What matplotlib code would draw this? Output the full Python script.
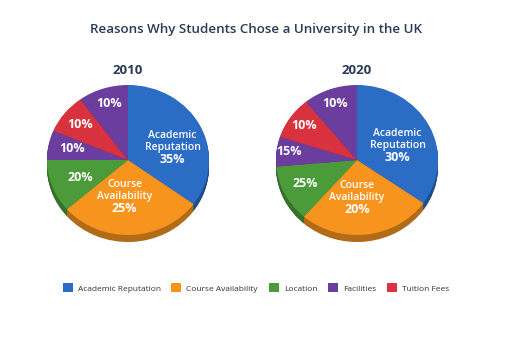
import matplotlib
matplotlib.use("Agg")
import matplotlib.pyplot as plt
from matplotlib.patches import Patch
import matplotlib.colors as mcolors

# ---- data ----
title = "Reasons Why Students Chose a University in the UK"
years = ["2010", "2020"]
legend_labels = ["Academic Reputation", "Course Availability", "Location", "Facilities", "Tuition Fees"]
slice_names = ["Academic\nReputation", "Course\nAvailability", "", "", "", ""]
pct_2010 = [35, 25, 20, 10, 10, 10]
pct_2020 = [30, 20, 25, 15, 10, 10]
# slice sizes as drawn in the picture (degrees)
drawn_2010 = [126, 103, 41, 23, 31, 36]
drawn_2020 = [125, 96, 44, 23, 33, 39]

# ---- style ----
c_blue, c_orange, c_green, c_purple, c_red = "#2B6CC4", "#F7941E", "#4B9B3A", "#6A3D9E", "#D8323E"
slice_colors = [c_blue, c_orange, c_green, c_purple, c_red, c_purple]
legend_colors = [c_blue, c_orange, c_green, c_purple, c_red]

def darker(c, f=0.72):
    r, g, b = mcolors.to_rgb(c)
    return (r * f, g * f, b * f)

W, H = 512, 341
fig = plt.figure(figsize=(W / 100, H / 100), dpi=100)
fig.patch.set_facecolor("white")

rx, ry = 81, 75
half = 100
centers = [(128, 160), (357, 160)]
font = "Open Sans"

# label positions in pie-radius units (x, y) per slice
label_pos = {
    "2010": [(0.55, 0.13), (-0.04, -0.53), (-0.59, -0.23), (-0.69, 0.15), (-0.59, 0.48), (-0.23, 0.75)],
    "2020": [(0.50, 0.15), (0.00, -0.54), (-0.64, -0.31), (-0.84, 0.11), (-0.65, 0.46), (-0.27, 0.75)],
}

for year, pcts, drawn, (cx, cy) in zip(years, [pct_2010, pct_2020], [drawn_2010, drawn_2020], centers):
    ax = fig.add_axes([(cx - half) / W, (H - (cy + half)) / H, 2 * half / W, 2 * half / H])
    depth = 7 / ry
    n = 10
    for i in range(n, 0, -1):
        off = depth * i / n
        ax.pie(drawn, colors=[darker(c) for c in slice_colors], startangle=90, counterclock=False,
               center=(0, -off), radius=1, wedgeprops=dict(linewidth=0))
    ax.pie(drawn, colors=slice_colors, startangle=90, counterclock=False,
           radius=1, wedgeprops=dict(linewidth=0))
    ax.set_aspect("auto")
    ax.set_xlim(-half / rx, half / rx)
    ax.set_ylim(-half / ry, half / ry)
    ax.axis("off")
    for k, (p, nm) in enumerate(zip(pcts, slice_names)):
        x, y = label_pos[year][k]
        if nm:
            ax.text(x, y + 0.12, nm, ha="center", va="center", color="white", fontsize=7.5,
                    fontweight="semibold", family=font, linespacing=1.15)
            ax.text(x, y - 0.12, f"{p}%", ha="center", va="center", color="white", fontsize=9,
                    fontweight="bold", family=font)
        else:
            ax.text(x, y, f"{p}%", ha="center", va="center", color="white", fontsize=9,
                    fontweight="bold", family=font)
    fig.text(cx / W, 1 - 70 / H, year, ha="center", va="center", fontsize=9.5,
             fontweight="bold", color="#2B3A55", family=font)

fig.text(0.5, 1 - 29 / H, title, ha="center", va="center", fontsize=9.6,
         fontweight="semibold", color="#2B3A55", family=font)

handles = [Patch(facecolor=c, edgecolor="none") for c in legend_colors]
fig.legend(handles, legend_labels, loc="center", bbox_to_anchor=(0.5, 1 - 288 / H), ncol=5,
           frameon=False, prop={"family": font, "size": 6}, handlelength=1.2, handleheight=1.2,
           columnspacing=1.3, handletextpad=0.6, labelcolor="#333333")

fig.savefig("out.png", dpi=100, facecolor="white")
